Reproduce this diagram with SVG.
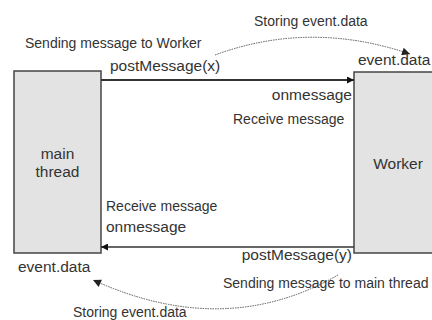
<svg xmlns="http://www.w3.org/2000/svg" width="432" height="320" viewBox="0 0 432 320">
<defs>
<style>
.box{fill:#e3e3e3;stroke:#444;stroke-width:1.5}
text{font-family:"Liberation Sans",Arial,sans-serif;fill:#333}
.s{font-size:14px}
.l{font-size:15.5px}
.msg{stroke:#333;fill:none}
.dot{stroke:#555;stroke-width:1;stroke-dasharray:1.5 1;fill:none}
</style>
<marker id="ah" viewBox="0 0 10 10" refX="10" refY="5" markerWidth="12" markerHeight="7" markerUnits="userSpaceOnUse" orient="auto">
<path d="M0,0 L10,5 L0,10 z" fill="#111"/>
</marker>
<marker id="ahs" viewBox="0 0 10 10" refX="10" refY="5" markerWidth="12" markerHeight="8" markerUnits="userSpaceOnUse" orient="auto">
<path d="M0,0 L10,5 L0,10 z" fill="#222"/>
</marker>
</defs>
<rect width="432" height="320" fill="#fff"/>
<g id="main-thread">
<rect class="box" x="14" y="71" width="87" height="182"/>
<text class="l" x="57.5" y="159" text-anchor="middle">main</text>
<text class="l" x="57.5" y="177" text-anchor="middle">thread</text>
</g>
<g id="worker">
<rect class="box" x="354" y="72" width="90" height="181"/>
<text class="l" x="398" y="169" text-anchor="middle">Worker</text>
</g>
<g id="connectors">
<line class="msg" x1="101" y1="80" x2="354" y2="80" stroke-width="2" marker-end="url(#ah)"/>
<line class="msg" x1="354" y1="247" x2="101" y2="247" stroke-width="1.3" marker-end="url(#ah)"/>
<path class="dot" d="M215,55 Q310,20 410,54" marker-end="url(#ahs)"/>
<path class="dot" d="M338,275 Q225,340 93,280" marker-end="url(#ahs)"/>
</g>
<g id="labels">
<text class="s" x="25" y="48">Sending message to Worker</text>
<text class="l" x="110" y="71">postMessage(x)</text>
<text class="s" x="254" y="26">Storing event.data</text>
<text class="l" x="358" y="65">event.data</text>
<text class="l" x="352" y="100" text-anchor="end">onmessage</text>
<text class="s" x="233" y="124">Receive message</text>
<text class="s" x="106" y="211">Receive message</text>
<text class="l" x="106" y="232">onmessage</text>
<text class="l" x="352" y="260" text-anchor="end">postMessage(y)</text>
<text class="l" x="18" y="272">event.data</text>
<text class="s" x="223" y="288">Sending message to main thread</text>
<text class="s" x="73" y="317">Storing event.data</text>
</g>
</svg>
